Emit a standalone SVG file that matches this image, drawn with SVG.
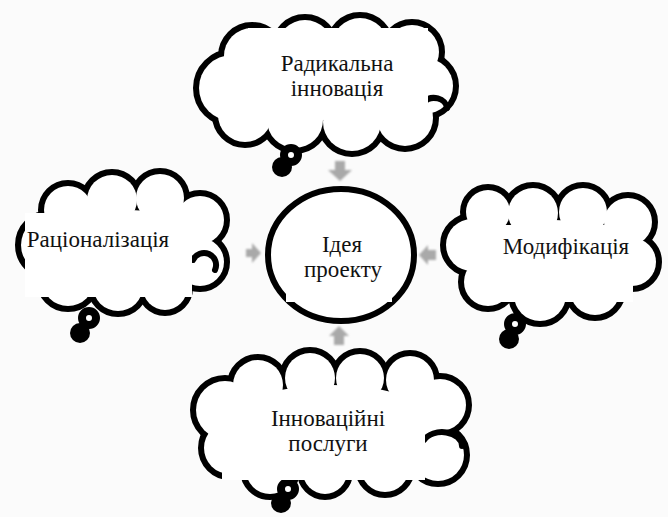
<svg xmlns="http://www.w3.org/2000/svg" xmlns:xlink="http://www.w3.org/1999/xlink" width="668" height="517" viewBox="0 0 668 517">
  <style>
    .bg{fill:#fbfbfb}
    .edge{fill:none;stroke:#000;stroke-width:12;stroke-linejoin:round}
    .body{fill:#fff;stroke:none}
    .hook{fill:none;stroke:#000;stroke-width:6;stroke-linecap:round}
    .ring{fill:#fff;stroke:#000;stroke-width:8}
    .blob{fill:#000}
    .box{fill:#fff}
    .hub{fill:#fff;stroke:#000;stroke-width:6}
    .lbl{font-family:"Liberation Serif","DejaVu Serif",serif;font-size:23px;fill:#111;text-anchor:middle}
    .arrow{fill:#a9a9a9;filter:url(#soft)}
  </style>
  <defs>
    <filter id="soft" x="-50%" y="-50%" width="200%" height="200%">
      <feGaussianBlur stdDeviation="0.9"/>
    </filter>
    <!-- cloud bodies: union of overlapping circles plus a filler ellipse -->
    <g id="cloud-top">
      <circle cx="232" cy="88" r="33"/>
      <circle cx="252" cy="56" r="28"/>
      <circle cx="305" cy="48" r="28"/>
      <circle cx="360" cy="46" r="28"/>
      <circle cx="412" cy="52" r="27"/>
      <circle cx="425" cy="86" r="28"/>
      <circle cx="405" cy="118" r="28"/>
      <circle cx="352" cy="122" r="29"/>
      <circle cx="295" cy="120" r="28"/>
      <circle cx="245" cy="115" r="27"/>
      <ellipse cx="325" cy="86" rx="85" ry="34" stroke="none"/>
    </g>
    <g id="cloud-left">
      <circle cx="50" cy="245" r="29"/>
      <circle cx="68" cy="210" r="24"/>
      <circle cx="112" cy="200" r="25"/>
      <circle cx="160" cy="198" r="24"/>
      <circle cx="200" cy="220" r="24"/>
      <circle cx="200" cy="262" r="24"/>
      <circle cx="165" cy="288" r="22"/>
      <circle cx="118" cy="286" r="25"/>
      <circle cx="68" cy="280" r="26"/>
      <ellipse cx="130" cy="245" rx="75" ry="35" stroke="none"/>
    </g>
    <g id="cloud-right">
      <circle cx="472" cy="245" r="26"/>
      <circle cx="488" cy="212" r="22"/>
      <circle cx="533" cy="213" r="25"/>
      <circle cx="583" cy="212" r="24"/>
      <circle cx="628" cy="222" r="24"/>
      <circle cx="632" cy="262" r="24"/>
      <circle cx="595" cy="290" r="25"/>
      <circle cx="540" cy="295" r="26"/>
      <circle cx="488" cy="282" r="24"/>
      <ellipse cx="555" cy="255" rx="75" ry="35" stroke="none"/>
    </g>
    <g id="cloud-bottom">
      <circle cx="225" cy="410" r="29"/>
      <circle cx="230" cy="448" r="26"/>
      <circle cx="270" cy="470" r="24"/>
      <circle cx="325" cy="472" r="22"/>
      <circle cx="385" cy="468" r="24"/>
      <circle cx="438" cy="455" r="26"/>
      <circle cx="440" cy="405" r="26"/>
      <circle cx="410" cy="380" r="24"/>
      <circle cx="360" cy="378" r="24"/>
      <circle cx="310" cy="378" r="25"/>
      <circle cx="258" cy="385" r="25"/>
      <ellipse cx="332" cy="425" rx="105" ry="40" stroke="none"/>
    </g>
  </defs>

  <rect class="bg" x="0" y="0" width="668" height="517"/>

  <!-- arrows pointing into the central idea -->
  <g id="connectors">
    <polygon class="arrow" points="335,161 345,161 345,170 352,170 340,181 328,170 335,170"/>
    <polygon class="arrow" points="246,249 252,249 252,243 261,253 252,263 252,257 246,257"/>
    <polygon class="arrow" points="436,250 428,250 428,245 419,255 428,265 428,260 436,260"/>
    <polygon class="arrow" points="334,345 344,345 344,336 349,336 339,326 329,336 334,336"/>
  </g>

  <g id="idea">
    <ellipse class="hub" cx="341" cy="255" rx="73" ry="66"/>
    <rect class="box" x="286" y="218" width="106" height="84"/>
    <text class="lbl" x="342" y="252">Ідея</text>
    <text class="lbl" x="343" y="277">проекту</text>
  </g>

  <g id="radical">
    <use xlink:href="#cloud-top" class="edge"/>
    <use xlink:href="#cloud-top" class="body"/>
    <path class="hook" d="M424,102 A13,11 0 0 1 447,108"/>
    <circle class="ring" cx="291" cy="155" r="7"/>
    <circle class="blob" cx="282" cy="167" r="10"/>
    <rect class="box" x="248" y="28" width="180" height="90"/>
    <text class="lbl" x="337" y="71">Радикальна</text>
    <text class="lbl" x="337" y="96">інновація</text>
  </g>

  <g id="rationalization">
    <use xlink:href="#cloud-left" class="edge"/>
    <use xlink:href="#cloud-left" class="body"/>
    <path class="hook" d="M193,260 A12,12 0 0 1 215,270"/>
    <circle class="ring" cx="89" cy="318" r="7"/>
    <circle class="blob" cx="80" cy="333" r="10"/>
    <rect class="box" x="25" y="213" width="167" height="84"/>
    <text class="lbl" x="98" y="247">Раціоналізація</text>
  </g>

  <g id="modification">
    <use xlink:href="#cloud-right" class="edge"/>
    <use xlink:href="#cloud-right" class="body"/>
    <circle class="ring" cx="515" cy="324" r="7"/>
    <circle class="blob" cx="509" cy="339" r="10"/>
    <rect class="box" x="483" y="225" width="150" height="77"/>
    <text class="lbl" x="566" y="254">Модифікація</text>
  </g>

  <g id="services">
    <use xlink:href="#cloud-bottom" class="edge"/>
    <use xlink:href="#cloud-bottom" class="body"/>
    <path class="hook" d="M424,440 A20,14 0 0 1 462,446"/>
    <circle class="ring" cx="288" cy="489" r="7"/>
    <circle class="blob" cx="281" cy="503" r="10"/>
    <rect class="box" x="222" y="393" width="203" height="87"/>
    <text class="lbl" x="328" y="426">Інноваційні</text>
    <text class="lbl" x="328" y="451">послуги</text>
  </g>
</svg>
